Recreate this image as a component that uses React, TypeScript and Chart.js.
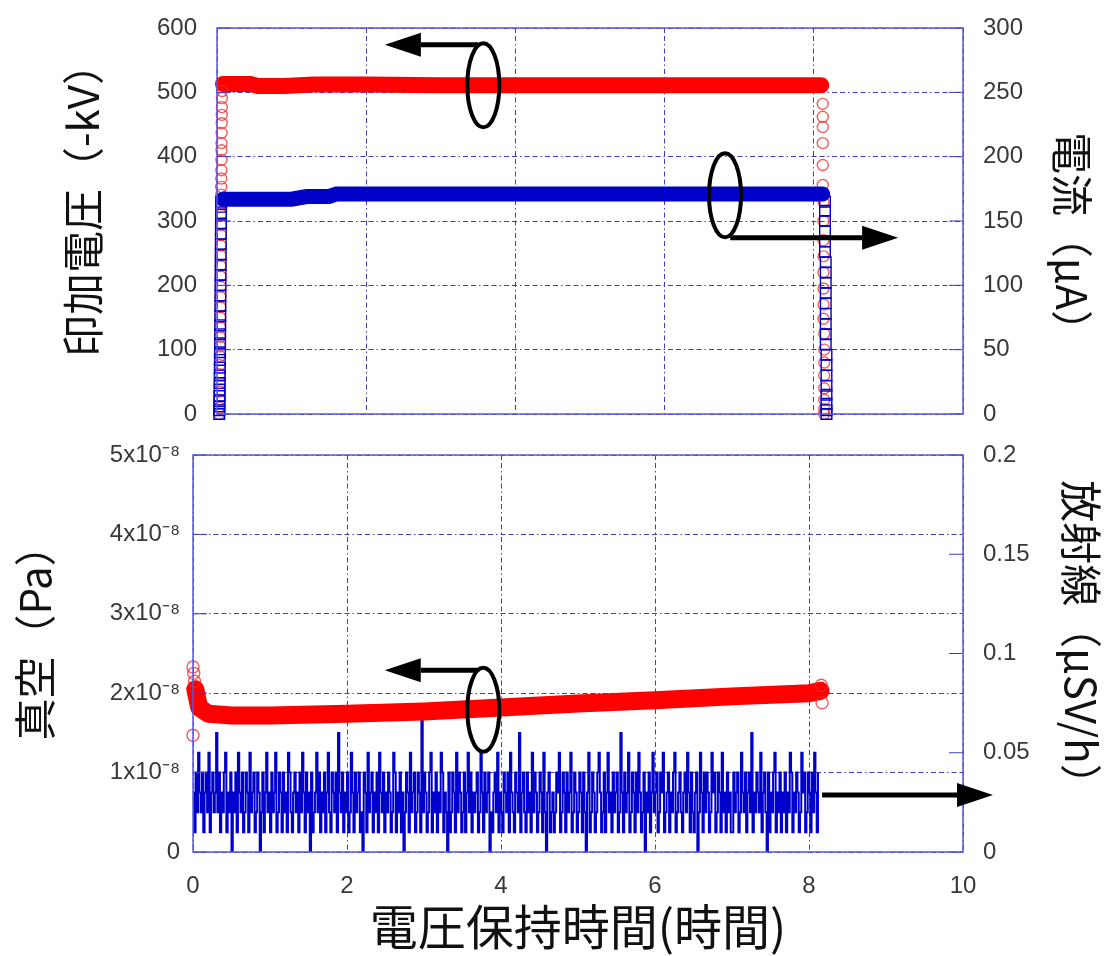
import React, { useEffect, useRef } from 'react';
import { Chart, registerables } from 'chart.js';

Chart.register(...registerables);

// ---------------- Top panel: applied voltage (-kV) & current (μA) ----------------
const voltRampUpTimes = [0.030, 0.031, 0.033, 0.034, 0.035, 0.036, 0.037, 0.038, 0.040, 0.041, 0.042, 0.043, 0.044, 0.045, 0.046, 0.047, 0.048, 0.049, 0.050, 0.051, 0.052, 0.053, 0.054, 0.055, 0.056, 0.057, 0.058, 0.059, 0.060, 0.061, 0.062, 0.063, 0.064, 0.065, 0.066, 0.068];
const voltRampUpValues = [0, 10, 22, 35, 48, 62, 76, 90, 105, 120, 135, 150, 166, 182, 198, 214, 230, 246, 262, 278, 294, 310, 326, 341, 353, 366, 379, 395, 410, 421, 437, 452, 465, 477, 491, 502];
const voltHoldTimes = [0.08, 0.45, 0.55, 0.9, 1.1, 1.3, 2.0, 3.0, 4.0, 5.0, 6.0, 7.0, 8.0, 8.1];
const voltHoldValues = [513, 513, 510, 510, 511, 512, 512, 511, 511, 511, 511, 511, 511, 511];
const voltRampDownTimes = [8.12, 8.12, 8.12, 8.12, 8.12, 8.12, 8.13, 8.13, 8.13, 8.13, 8.13, 8.13, 8.13, 8.13, 8.14, 8.14, 8.14, 8.14, 8.14, 8.14, 8.14, 8.14];
const voltRampDownValues = [482, 462, 446, 421, 387, 356, 330, 300, 270, 245, 220, 195, 170, 148, 125, 100, 80, 60, 40, 22, 8, 0];

const currentRampUpTimes = [0.030, 0.031, 0.032, 0.033, 0.034, 0.035, 0.036, 0.037, 0.038, 0.039, 0.040, 0.041, 0.042, 0.043, 0.044, 0.045, 0.046, 0.047, 0.048, 0.049, 0.050, 0.051, 0.052, 0.053, 0.054, 0.055, 0.056];
const currentRampUpValues = [0, 3, 6, 10, 14, 19, 24, 30, 36, 42, 48, 55, 62, 69, 76, 84, 92, 100, 108, 116, 124, 132, 140, 148, 155, 161, 165];
const currentHoldTimes = [0.08, 0.5, 1.0, 1.2, 1.5, 1.6, 2.0, 3.0, 4.0, 5.0, 6.0, 7.0, 8.0, 8.12];
const currentHoldValues = [167, 167, 167, 169, 169, 171, 171, 171, 171, 171, 171, 171, 171, 171];
const currentRampDownTimes = [8.15, 8.15, 8.15, 8.15, 8.15, 8.15, 8.16, 8.16, 8.16, 8.16, 8.16, 8.16, 8.16, 8.16, 8.16, 8.17, 8.17, 8.17, 8.17, 8.17, 8.17, 8.17, 8.17];
const currentRampDownValues = [165, 158, 150, 142, 134, 126, 118, 110, 102, 94, 86, 78, 70, 62, 54, 46, 38, 30, 22, 15, 8, 3, 0];

const voltTicksStep = 100;
const currentTicksStep = 50;

// ---------------- Bottom panel: vacuum (Pa) & radiation (μSv/h) ----------------
// pressure values in units of 1e-8 Pa
const pressureTransientTimes = [0.0, 0.0, 0.01, 0.02, 8.16, 8.17];
const pressureTransientValues = [2.33, 1.47, 2.25, 2.15, 2.1, 1.88];
const pressureBandTimes = [0.03, 0.08, 0.2, 0.5, 1.0, 2.0, 3.0, 4.0, 5.0, 6.0, 7.0, 8.0, 8.15];
const pressureBandValues = [2.05, 1.82, 1.74, 1.72, 1.72, 1.74, 1.77, 1.82, 1.87, 1.91, 1.96, 2.0, 2.03];

// radiation dose rate in units of 0.01 μSv/h, one sample per minute
const radiationInterval = 1 / 60;
const radiationHundredths = [
  3, 1, 4, 2, 5, 3, 2, 4, 1, 3, 4, 2, 5, 1, 3, 4, 2, 3, 6, 2,
  4, 1, 3, 2, 4, 5, 1, 3, 2, 4, 0, 3, 2, 4, 1, 5, 3, 2, 4, 1,
  2, 4, 3, 1, 5, 2, 3, 4, 1, 2, 4, 3, 0, 2, 4, 1, 3, 5, 2, 3,
  1, 4, 2, 3, 5, 1, 2, 4, 3, 1, 4, 2, 3, 1, 5, 4, 2, 1, 3, 4,
  2, 3, 1, 4, 2, 5, 3, 1, 4, 2, 3, 0, 4, 1, 2, 3, 5, 2, 4, 1,
  3, 2, 4, 1, 3, 5, 2, 1, 4, 3, 2, 4, 1, 6, 3, 2, 4, 1, 3, 2,
  4, 1, 2, 5, 3, 1, 4, 2, 3, 4, 1, 2, 0, 4, 3, 1, 5, 2, 3, 4,
  1, 3, 2, 4, 1, 5, 3, 2, 4, 1, 3, 2, 4, 3, 1, 2, 5, 4, 1, 3,
  2, 4, 1, 3, 0, 2, 4, 3, 1, 5, 2, 3, 4, 1, 2, 4, 3, 1, 7, 2,
  4, 3, 1, 2, 4, 5, 1, 3, 2, 4, 1, 3, 2, 5, 4, 1, 3, 2, 0, 4,
  1, 2, 4, 3, 1, 5, 2, 4, 3, 1, 2, 4, 1, 3, 5, 2, 4, 1, 3, 2,
  3, 4, 1, 2, 5, 3, 1, 4, 2, 3, 4, 0, 2, 1, 3, 4, 2, 5, 1, 3,
  2, 1, 4, 3, 2, 4, 1, 5, 3, 2, 1, 4, 3, 2, 6, 1, 3, 4, 2, 1,
  4, 2, 3, 1, 5, 2, 4, 3, 1, 2, 4, 3, 1, 5, 2, 0, 3, 4, 1, 2,
  3, 1, 2, 4, 3, 5, 1, 2, 4, 3, 1, 4, 2, 3, 5, 1, 2, 4, 3, 1,
  2, 4, 3, 1, 4, 2, 0, 3, 5, 1, 2, 4, 3, 1, 2, 4, 5, 3, 1, 2,
  4, 1, 3, 5, 2, 3, 1, 4, 2, 3, 4, 1, 2, 6, 3, 1, 4, 2, 3, 5,
  1, 2, 4, 3, 1, 4, 2, 5, 3, 1, 2, 4, 0, 3, 2, 4, 1, 3, 5, 2,
  3, 4, 1, 2, 4, 3, 5, 1, 2, 3, 4, 1, 3, 2, 4, 5, 1, 2, 3, 4,
  2, 1, 3, 4, 2, 5, 3, 1, 4, 2, 1, 3, 4, 0, 2, 5, 3, 1, 4, 2,
  4, 3, 1, 2, 5, 3, 4, 1, 2, 4, 3, 1, 5, 2, 3, 1, 4, 2, 3, 1,
  1, 4, 2, 3, 4, 1, 2, 5, 3, 2, 4, 1, 3, 4, 2, 6, 1, 3, 2, 4,
  3, 2, 5, 1, 3, 4, 2, 0, 4, 1, 3, 2, 4, 5, 1, 3, 2, 4, 1, 3,
  2, 4, 1, 3, 2, 5, 4, 1, 3, 2, 4, 3, 1, 2, 5, 3, 4, 1, 2, 4,
  3, 1, 4, 2, 5, 3, 1, 4,
];

const xTickStep = 2;

// ---------------- annotation anchors (data units) ----------------
const topEllipses = [
  { x: 3.57, y: 511, axis: 'yV' },
  { x: 6.81, y: 170, axis: 'yI' },
];
const topArrows = [
  { x1: 3.5, x2: 2.25, y: 574, axis: 'yV' },
  { x1: 6.88, x2: 9.13, y: 137, axis: 'yI' },
];
const bottomEllipses = [{ x: 3.77, y: 1.79e-8, axis: 'yP' }];
const bottomArrows = [
  { x1: 3.7, x2: 2.49, y: 2.29e-8, axis: 'yP' },
  { x1: 8.17, x2: 10.39, y: 0.0287, axis: 'yR' },
];

// ---------------- styles ----------------
const RED = '#ff0000';
const RED_MARK = 'rgba(240,40,40,0.75)';
const BLUE = '#0000c8';
const GRID_COLOR = '#3c3cc8';
const BOX_COLOR = '#5858dc';
const TICK_FONT = { family: "'Liberation Sans', Arial, sans-serif", size: 24 };
const TICK_COLOR = '#383838';
const TITLE_FONT = { family: "'Noto Sans CJK JP', 'Noto Sans CJK SC', sans-serif", size: 42 };
const TITLE_COLOR = '#111111';
const GRID_DASH = [5, 3, 5, 3, 1.5, 3];

const zip = (xs: number[], ys: number[], k = 1) => xs.map((x, i) => ({ x, y: ys[i] * k }));

// fix a scale's size and drop the extra label-overflow padding Chart.js adds
const fixSize = (w: number | null, h: number | null) => (s: any) => {
  if (w !== null) s.width = w;
  if (h !== null) s.height = h;
  s.paddingTop = 0;
  s.paddingBottom = 0;
  s.paddingLeft = 0;
  s.paddingRight = 0;
};

const framePlugin = {
  id: 'frame',
  afterDraw(chart: any) {
    const { ctx, chartArea: a, scales } = chart;
    ctx.save();
    ctx.strokeStyle = GRID_COLOR;
    ctx.lineWidth = 1;
    ctx.setLineDash([]);
    Object.keys(scales).forEach((id) => {
      const s = scales[id];
      if (s.axis !== 'y') return;
      const left = s.position === 'left';
      s.ticks.forEach((t: any) => {
        const y = s.getPixelForValue(t.value);
        ctx.beginPath();
        ctx.moveTo(left ? a.left : a.right, y);
        ctx.lineTo(left ? a.left + 14 : a.right - 14, y);
        ctx.stroke();
      });
    });
    ctx.strokeStyle = BOX_COLOR;
    ctx.lineWidth = 1.5;
    ctx.strokeRect(a.left, a.top, a.right - a.left, a.bottom - a.top);
    ctx.restore();
  },
};

function drawArrow(ctx: CanvasRenderingContext2D, x1: number, y1: number, x2: number, y2: number) {
  const headLen = 36;
  const headHalf = 12;
  const ang = Math.atan2(y2 - y1, x2 - x1);
  const bx = x2 - headLen * Math.cos(ang);
  const by = y2 - headLen * Math.sin(ang);
  ctx.beginPath();
  ctx.moveTo(x1, y1);
  ctx.lineTo(bx, by);
  ctx.lineWidth = 5;
  ctx.stroke();
  ctx.beginPath();
  ctx.moveTo(x2, y2);
  ctx.lineTo(bx - headHalf * Math.sin(ang), by + headHalf * Math.cos(ang));
  ctx.lineTo(bx + headHalf * Math.sin(ang), by - headHalf * Math.cos(ang));
  ctx.closePath();
  ctx.fill();
}

function makeNotesPlugin(ellipses: any[], arrows: any[]) {
  return {
    id: 'notes',
    afterDraw(chart: any) {
      const { ctx, scales } = chart;
      const xs = scales.x;
      ctx.save();
      ctx.strokeStyle = '#000';
      ctx.fillStyle = '#000';
      ctx.setLineDash([]);
      ellipses.forEach((e) => {
        const cx = xs.getPixelForValue(e.x);
        const cy = scales[e.axis].getPixelForValue(e.y);
        ctx.beginPath();
        ctx.ellipse(cx, cy, 16, 42, 0, 0, Math.PI * 2);
        ctx.lineWidth = 4;
        ctx.stroke();
      });
      arrows.forEach((r) => {
        const y = scales[r.axis].getPixelForValue(r.y);
        drawArrow(ctx, xs.getPixelForValue(r.x1), y, xs.getPixelForValue(r.x2), y);
      });
      ctx.restore();
    },
  };
}

const xGrid = {
  color: GRID_COLOR,
  lineWidth: 1,
  drawTicks: false,
};

const markSet = (shape: string, color: string, radius: number) => ({
  showLine: false,
  pointStyle: shape,
  pointRadius: radius,
  pointBorderWidth: 1.4,
  pointBorderColor: color,
  pointBackgroundColor: 'rgba(0,0,0,0)',
  clip: false,
});

function topConfig(): any {
  return {
    type: 'line',
    data: {
      datasets: [
        { label: '電流 上昇', data: zip(currentRampUpTimes, currentRampUpValues), yAxisID: 'yI', ...markSet('rect', BLUE, 7.5) },
        {
          label: '電流',
          data: zip(currentHoldTimes, currentHoldValues),
          yAxisID: 'yI',
          borderColor: BLUE,
          borderWidth: 15,
          borderCapStyle: 'round',
          pointRadius: 0,
          clip: false,
        },
        { label: '電流 下降', data: zip(currentRampDownTimes, currentRampDownValues), yAxisID: 'yI', ...markSet('rect', BLUE, 7.5) },
        { label: '印加電圧 上昇', data: zip(voltRampUpTimes, voltRampUpValues), yAxisID: 'yV', ...markSet('circle', RED_MARK, 5.5) },
        {
          label: '印加電圧',
          data: zip(voltHoldTimes, voltHoldValues),
          yAxisID: 'yV',
          borderColor: RED,
          borderWidth: 16,
          borderCapStyle: 'round',
          pointRadius: 0,
          clip: false,
        },
        { label: '印加電圧 下降', data: zip(voltRampDownTimes, voltRampDownValues), yAxisID: 'yV', ...markSet('circle', RED_MARK, 5.5) },
      ],
    },
    options: {
      responsive: false,
      animation: false,
      layout: { padding: { top: 28, left: 0, right: 0, bottom: 0 } },
      plugins: { legend: { display: false }, tooltip: { enabled: false } },
      scales: {
        x: {
          type: 'linear',
          min: 0,
          max: 10,
          ticks: { display: false, stepSize: xTickStep },
          grid: xGrid,
          border: { display: false, dash: GRID_DASH },
          afterFit: fixSize(null, 26),
        },
        yV: {
          type: 'linear',
          position: 'left',
          min: 0,
          max: 600,
          ticks: { stepSize: voltTicksStep, padding: 20, font: TICK_FONT, color: TICK_COLOR },
          grid: { color: GRID_COLOR, lineWidth: 1, drawTicks: false },
          border: { display: false, dash: GRID_DASH },
          title: {
            display: true,
            text: '\u3000印加電圧（-kV）',
            font: TITLE_FONT,
            color: TITLE_COLOR,
            padding: { top: 58, bottom: 0 },
          },
          afterFit: fixSize(217, null),
        },
        yI: {
          type: 'linear',
          position: 'right',
          min: 0,
          max: 300,
          ticks: { stepSize: currentTicksStep, padding: 20, font: TICK_FONT, color: TICK_COLOR },
          grid: { drawOnChartArea: false, drawTicks: false },
          border: { display: false },
          title: {
            display: true,
            text: '\u3000電流（μA）',
            font: TITLE_FONT,
            color: TITLE_COLOR,
            padding: { top: 9, bottom: 0 },
          },
          afterFit: fixSize(143, null),
        },
      },
    },
    plugins: [framePlugin, makeNotesPlugin(topEllipses, topArrows)],
  };
}

function bottomConfig(): any {
  return {
    type: 'line',
    data: {
      datasets: [
        { label: '真空 過渡', data: zip(pressureTransientTimes, pressureTransientValues, 1e-8), yAxisID: 'yP', ...markSet('circle', RED_MARK, 6) },
        {
          label: '真空',
          data: zip(pressureBandTimes, pressureBandValues, 1e-8),
          yAxisID: 'yP',
          borderColor: RED,
          borderWidth: 18,
          borderCapStyle: 'round',
          borderJoinStyle: 'round',
          pointRadius: 0,
          clip: false,
        },
        {
          label: '放射線',
          data: radiationHundredths.map((v, i) => ({ x: i * radiationInterval, y: v * 0.01 })),
          yAxisID: 'yR',
          borderColor: '#0000cc',
          borderWidth: 2,
          stepped: true,
          pointRadius: 0,
        },
      ],
    },
    options: {
      responsive: false,
      animation: false,
      layout: { padding: { top: 15, left: 0, right: 0, bottom: 0 } },
      plugins: { legend: { display: false }, tooltip: { enabled: false } },
      scales: {
        x: {
          type: 'linear',
          min: 0,
          max: 10,
          ticks: { stepSize: xTickStep, padding: 20, font: TICK_FONT, color: TICK_COLOR },
          grid: xGrid,
          border: { display: false, dash: GRID_DASH },
          title: {
            display: true,
            text: '電圧保持時間(時間)',
            font: { family: TITLE_FONT.family, size: 48 },
            color: TITLE_COLOR,
            padding: { top: 0, bottom: 0 },
          },
          afterFit: fixSize(null, 104),
        },
        yP: {
          type: 'linear',
          position: 'left',
          min: 0,
          max: 5e-8,
          ticks: {
            stepSize: 1e-8,
            padding: 13,
            font: TICK_FONT,
            color: TICK_COLOR,
            callback: (v: number) => (v === 0 ? '0' : `${Math.round(v / 1e-8)}x10⁻⁸`),
          },
          grid: { color: GRID_COLOR, lineWidth: 1, drawTicks: false },
          border: { display: false, dash: GRID_DASH },
          title: {
            display: true,
            text: '\u3000真空（Pa）',
            font: TITLE_FONT,
            color: TITLE_COLOR,
            padding: { top: 10, bottom: 0 },
          },
          afterFit: fixSize(193, null),
        },
        yR: {
          type: 'linear',
          position: 'right',
          min: 0,
          max: 0.2,
          ticks: {
            stepSize: 0.05,
            padding: 20,
            font: TICK_FONT,
            color: TICK_COLOR,
            callback: (v: number) => `${+v.toFixed(2)}`,
          },
          grid: { drawOnChartArea: false, drawTicks: false },
          border: { display: false },
          title: {
            display: true,
            text: '放射線（μSV/h）\u3000',
            font: TITLE_FONT,
            color: TITLE_COLOR,
            padding: { top: 0, bottom: 0 },
          },
          afterFit: fixSize(143, null),
        },
      },
    },
    plugins: [framePlugin, makeNotesPlugin(bottomEllipses, bottomArrows)],
  };
}

function ChartCanvas({ make, top, height }: { make: () => any; top: number; height: number }) {
  const ref = useRef<HTMLCanvasElement>(null);
  useEffect(() => {
    const chart = new Chart(ref.current as HTMLCanvasElement, make());
    return () => chart.destroy();
  }, []);
  return (
    <canvas
      ref={ref}
      width={1106}
      height={height}
      style={{ position: 'absolute', left: 0, top, width: 1106, height, display: 'block' }}
    />
  );
}

export default function App() {
  return (
    <div style={{ position: 'absolute', left: 0, top: 0, width: 1106, height: 956, background: '#ffffff', overflow: 'hidden' }}>
      <ChartCanvas make={topConfig} top={0} height={440} />
      <ChartCanvas make={bottomConfig} top={440} height={516} />
    </div>
  );
}
